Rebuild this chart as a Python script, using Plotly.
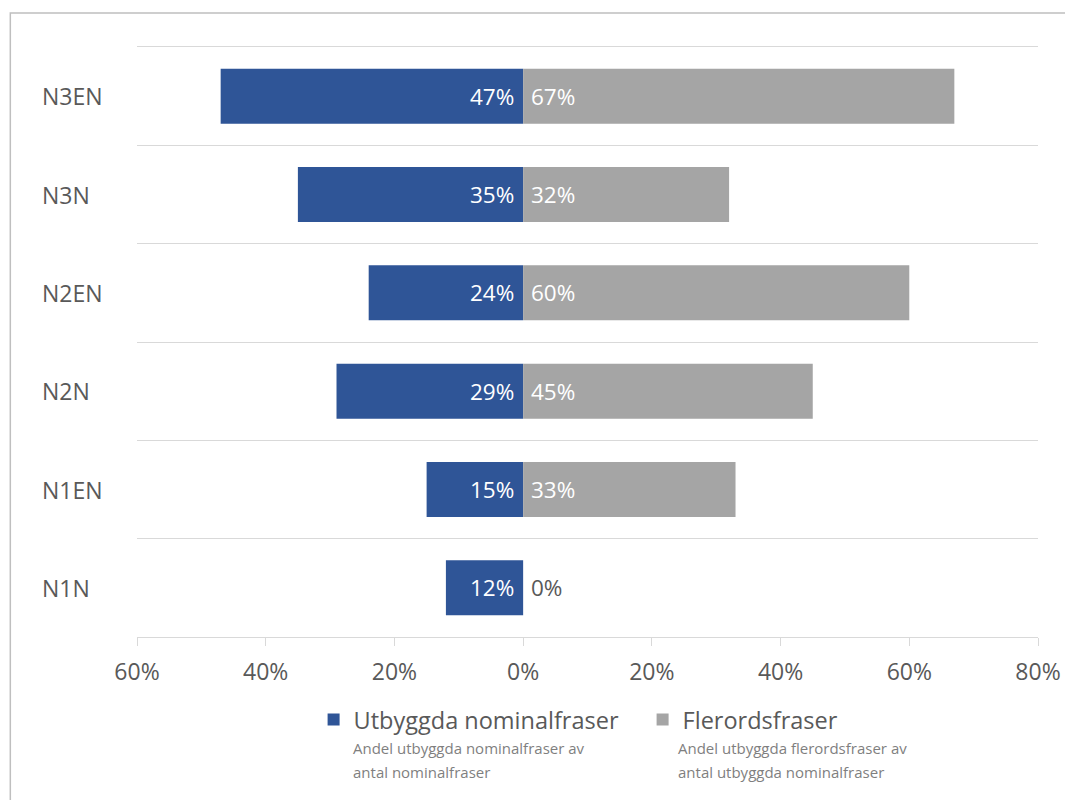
import plotly.graph_objects as go

categories = ["N1N", "N1EN", "N2N", "N2EN", "N3N", "N3EN"]
utbyggda = [12, 15, 29, 24, 35, 47]
flerords = [0, 33, 45, 60, 32, 67]
x_ticks = [-60, -40, -20, 0, 20, 40, 60, 80]
series_names = ["Utbyggda nominalfraser", "Flerordsfraser"]
subtitles = [
    ["Andel utbyggda nominalfraser av", "antal nominalfraser"],
    ["Andel utbyggda flerordsfraser av", "antal utbyggda nominalfraser"],
]

BLUE = "#2F5597"
GRAY = "#A5A5A5"
TXT = "#595959"
FONT = "Open Sans"

ypos = list(range(len(categories)))

fig = go.Figure()
fig.add_trace(go.Bar(y=ypos, x=[-v for v in utbyggda], orientation="h",
                     marker=dict(color=BLUE, line=dict(width=0)),
                     name=series_names[0], width=0.56))
fig.add_trace(go.Bar(y=ypos, x=flerords, orientation="h",
                     marker=dict(color=GRAY, line=dict(width=0)),
                     name=series_names[1], width=0.56))

ann = []
for i, cat in enumerate(categories):
    ann.append(dict(x=-0.108, xref="paper", y=ypos[i], yref="y", text=cat,
                    xanchor="left", yanchor="middle", showarrow=False,
                    font=dict(family=FONT, size=23, color=TXT)))
    ann.append(dict(x=0, xref="x", y=ypos[i], yref="y", text=f"{utbyggda[i]}%",
                    xanchor="right", yanchor="middle", xshift=-7, showarrow=False,
                    font=dict(family=FONT, size=22.5,
                              color="white" if utbyggda[i] > 0 else TXT)))
    ann.append(dict(x=0, xref="x", y=ypos[i], yref="y", text=f"{flerords[i]}%",
                    xanchor="left", yanchor="middle", xshift=6, showarrow=False,
                    font=dict(family=FONT, size=22.5,
                              color="white" if flerords[i] > 0 else TXT)))

sub_x = [0.238, 0.5985]
for k, lines in enumerate(subtitles):
    for j, line in enumerate(lines):
        ann.append(dict(x=sub_x[k], xref="paper", y=-0.188 - 0.04 * j, yref="paper",
                        text=line, xanchor="left", yanchor="middle", showarrow=False,
                        font=dict(family=FONT, size=15, color="#7F7F7F")))

fig.update_layout(
    width=1065, height=792,
    margin=dict(l=129, r=33, t=39, b=163),
    paper_bgcolor="white", plot_bgcolor="white",
    barmode="relative",
    bargap=0.44,
    font=dict(family=FONT, color=TXT),
    annotations=ann,
    showlegend=True,
    legend=dict(orientation="h", x=0.196, xanchor="left", y=-0.14, yanchor="middle",
                font=dict(family=FONT, size=23.5, color=TXT),
                entrywidth=284, entrywidthmode="pixels", traceorder="normal",
                bgcolor="rgba(0,0,0,0)"),
    xaxis=dict(range=[-60, 80], tickvals=x_ticks,
               ticktext=[f"{abs(v)}%" for v in x_ticks],
               showgrid=False, zeroline=False, showline=True, mirror=True,
               linecolor="#D9D9D9", linewidth=1.3, ticks="outside", ticklen=8,
               tickcolor="#D9D9D9",
               tickfont=dict(family=FONT, size=23, color=TXT), ticklabelstandoff=6,
               fixedrange=True),
    yaxis=dict(range=[-0.5, 5.5], tickvals=ypos, showticklabels=False,
               showgrid=False, zeroline=False, showline=False, ticks="",
               minor=dict(tickvals=[p + 0.5 for p in ypos], showgrid=True,
                          gridcolor="#D9D9D9", gridwidth=1.3, ticks=""),
               fixedrange=True),
    shapes=[dict(type="rect", xref="paper", yref="paper",
                 x0=-0.1406, x1=1.05, y0=-0.35, y1=1.0576,
                 line=dict(color="#BFBFBF", width=1.5), fillcolor="rgba(0,0,0,0)",
                 layer="below")],
)

fig.write_html("out.html")
